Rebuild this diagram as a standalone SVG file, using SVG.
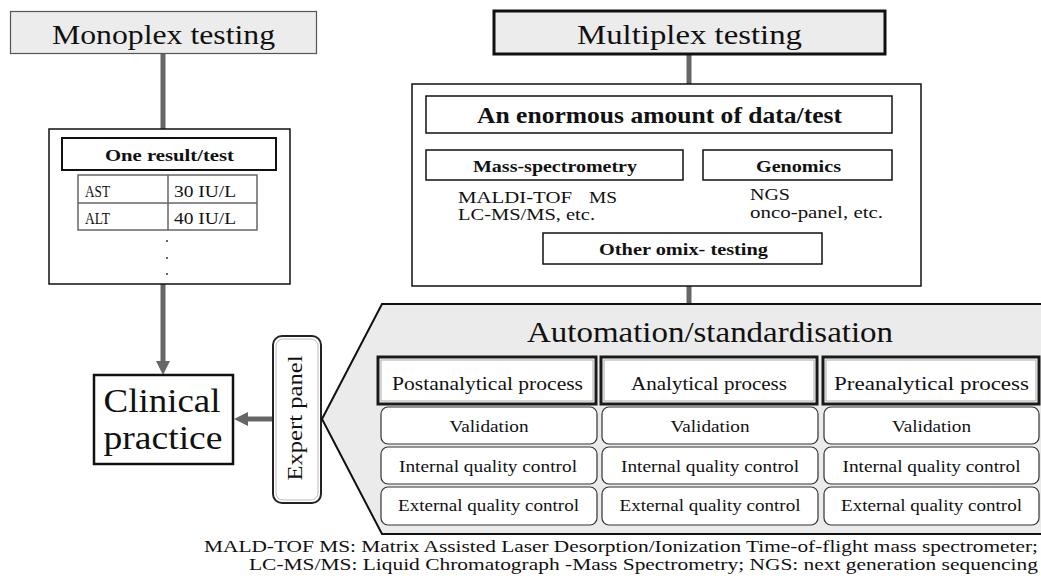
<svg xmlns="http://www.w3.org/2000/svg" width="1041" height="579" viewBox="0 0 1041 579">
<defs>
<style>
text{font-family:'Liberation Serif','DejaVu Serif',serif;fill:#111}
.b{font-weight:bold}
.conn{stroke:#666;stroke-width:5;fill:none}
.thin{fill:#fff;stroke:#111;stroke-width:1.5}
.row{fill:#fff;stroke:#333;stroke-width:1.2}
.hdr{fill:#fff;stroke:#1a1a1a;stroke-width:3}
.hdrin{fill:none;stroke:#aaa;stroke-width:1}
.mid{text-anchor:middle}
.rt{font-size:16.5px;text-anchor:middle}
.ht{font-size:19.5px;text-anchor:middle}
</style>
<marker id="ah" viewBox="0 0 14 14" refX="0" refY="7" markerWidth="14" markerHeight="14" markerUnits="userSpaceOnUse" orient="auto">
<path d="M0,0 L14,7 L0,14 Z" fill="#666"/>
</marker>
</defs>
<rect width="1041" height="579" fill="#fff"/>
<g font-family="Liberation Serif, DejaVu Serif, serif">

<g id="connectors">
<line class="conn" x1="163" y1="54" x2="163" y2="129"/>
<line class="conn" x1="163" y1="284" x2="163" y2="361" marker-end="url(#ah)"/>
<line class="conn" x1="689" y1="55" x2="689" y2="84"/>
<line class="conn" x1="689" y1="286" x2="689" y2="305"/>
<line class="conn" x1="273" y1="419" x2="248" y2="419" marker-end="url(#ah)"/>
</g>

<g id="monoplex">
<rect x="10.5" y="11.5" width="306" height="42" fill="#ececec" stroke="#555" stroke-width="1.2"/>
<text x="163.5" y="44" class="mid" font-size="28" textLength="223" lengthAdjust="spacingAndGlyphs">Monoplex testing</text>
</g>

<g id="multiplex">
<rect x="494" y="11" width="391" height="43" fill="#ececec" stroke="#111" stroke-width="3"/>
<text x="689.5" y="44" class="mid" font-size="28" textLength="225" lengthAdjust="spacingAndGlyphs">Multiplex testing</text>
</g>

<g id="one-result">
<rect class="thin" x="49" y="129" width="241" height="155"/>
<rect x="62" y="138" width="214" height="32" fill="#fff" stroke="#111" stroke-width="2"/>
<text x="169.5" y="161" class="mid b" font-size="17" textLength="129" lengthAdjust="spacingAndGlyphs">One result/test</text>
<rect x="78" y="175" width="179" height="55" fill="none" stroke="#666" stroke-width="1.5"/>
<line x1="78" y1="203" x2="257" y2="203" stroke="#666" stroke-width="1.5"/>
<line x1="168" y1="175" x2="168" y2="230" stroke="#666" stroke-width="1.5"/>
<text x="85" y="197" font-size="17" textLength="25" lengthAdjust="spacingAndGlyphs">AST</text>
<text x="174" y="197" font-size="17" textLength="62" lengthAdjust="spacingAndGlyphs">30 IU/L</text>
<text x="85" y="224" font-size="17" textLength="25" lengthAdjust="spacingAndGlyphs">ALT</text>
<text x="174" y="224" font-size="17" textLength="62" lengthAdjust="spacingAndGlyphs">40 IU/L</text>
<circle cx="167" cy="241" r="1" fill="#333"/>
<circle cx="167" cy="258" r="1" fill="#333"/>
<circle cx="167" cy="274" r="1" fill="#333"/>
</g>

<g id="clinical-practice">
<rect x="94" y="375" width="139" height="89" fill="#fff" stroke="#111" stroke-width="2.5"/>
<text x="162" y="412" class="mid" font-size="34" textLength="117" lengthAdjust="spacingAndGlyphs">Clinical</text>
<text x="163" y="449" class="mid" font-size="34" textLength="119" lengthAdjust="spacingAndGlyphs">practice</text>
</g>

<g id="expert-panel">
<rect x="273" y="336" width="48" height="167" rx="9" fill="#fff" stroke="#222" stroke-width="2"/>
<rect x="276" y="339" width="42" height="161" rx="7" fill="none" stroke="#bbb" stroke-width="1"/>
<text transform="translate(302,418) rotate(-90)" class="mid" font-size="22" textLength="125" lengthAdjust="spacingAndGlyphs">Expert panel</text>
</g>

<g id="multiplex-data">
<rect class="thin" x="412" y="84" width="509" height="202"/>
<rect class="thin" x="426" y="96" width="466" height="37"/>
<text x="659.5" y="123" class="mid b" font-size="23" textLength="365" lengthAdjust="spacingAndGlyphs">An enormous amount of data/test</text>
<rect class="thin" x="426" y="150" width="257" height="30"/>
<text x="555" y="172" class="mid b" font-size="17" textLength="164" lengthAdjust="spacingAndGlyphs">Mass-spectrometry</text>
<rect class="thin" x="703" y="150" width="189" height="30"/>
<text x="798.5" y="172" class="mid b" font-size="17" textLength="85" lengthAdjust="spacingAndGlyphs">Genomics</text>
<text x="458" y="203" font-size="17" textLength="114" lengthAdjust="spacingAndGlyphs">MALDI-TOF</text>
<text x="589" y="203" font-size="17" textLength="28" lengthAdjust="spacingAndGlyphs">MS</text>
<text x="458" y="220" font-size="17" textLength="137" lengthAdjust="spacingAndGlyphs">LC-MS/MS, etc.</text>
<text x="750" y="200" font-size="17" textLength="40" lengthAdjust="spacingAndGlyphs">NGS</text>
<text x="750" y="218" font-size="17" textLength="133" lengthAdjust="spacingAndGlyphs">onco-panel, etc.</text>
<rect class="thin" x="543" y="233" width="279" height="31"/>
<text x="683.5" y="255" class="mid b" font-size="17" textLength="169" lengthAdjust="spacingAndGlyphs">Other omix- testing</text>
</g>

<g id="automation">
<path d="M322,419 L382,304 L1045,304 L1045,534 L382,534 Z" fill="#ebebeb" stroke="#111" stroke-width="2"/>
<text x="527" y="342" font-size="30" textLength="366" lengthAdjust="spacingAndGlyphs">Automation/standardisation</text>
</g>

<g id="postanalytical">
<rect class="hdr" x="378" y="357" width="218" height="47"/>
<rect class="hdrin" x="381" y="360" width="212" height="41"/>
<text x="487.5" y="390" class="ht" textLength="191" lengthAdjust="spacingAndGlyphs">Postanalytical process</text>
<rect class="row" x="381" y="407" width="216" height="37" rx="7"/>
<text x="489" y="432" class="rt" textLength="79" lengthAdjust="spacingAndGlyphs">Validation</text>
<rect class="row" x="381" y="447" width="216" height="37" rx="7"/>
<text x="488" y="472" class="rt" textLength="178" lengthAdjust="spacingAndGlyphs">Internal quality control</text>
<rect class="row" x="381" y="487" width="216" height="38" rx="7"/>
<text x="488.5" y="511" class="rt" textLength="181" lengthAdjust="spacingAndGlyphs">External quality control</text>
</g>

<g id="analytical">
<rect class="hdr" x="601" y="357" width="216" height="47"/>
<rect class="hdrin" x="604" y="360" width="210" height="41"/>
<text x="709" y="390" class="ht" textLength="156" lengthAdjust="spacingAndGlyphs">Analytical process</text>
<rect class="row" x="602" y="407" width="216" height="37" rx="7"/>
<text x="710" y="432" class="rt" textLength="79" lengthAdjust="spacingAndGlyphs">Validation</text>
<rect class="row" x="602" y="447" width="216" height="37" rx="7"/>
<text x="710" y="472" class="rt" textLength="178" lengthAdjust="spacingAndGlyphs">Internal quality control</text>
<rect class="row" x="602" y="487" width="216" height="38" rx="7"/>
<text x="710" y="511" class="rt" textLength="181" lengthAdjust="spacingAndGlyphs">External quality control</text>
</g>

<g id="preanalytical">
<rect class="hdr" x="823" y="357" width="216" height="47"/>
<rect class="hdrin" x="826" y="360" width="210" height="41"/>
<text x="931.5" y="390" class="ht" textLength="195" lengthAdjust="spacingAndGlyphs">Preanalytical process</text>
<rect class="row" x="824" y="407" width="215" height="37" rx="7"/>
<text x="931.5" y="432" class="rt" textLength="79" lengthAdjust="spacingAndGlyphs">Validation</text>
<rect class="row" x="824" y="447" width="215" height="37" rx="7"/>
<text x="931.5" y="472" class="rt" textLength="178" lengthAdjust="spacingAndGlyphs">Internal quality control</text>
<rect class="row" x="824" y="487" width="215" height="38" rx="7"/>
<text x="931.5" y="511" class="rt" textLength="181" lengthAdjust="spacingAndGlyphs">External quality control</text>
</g>

<g id="footnote">
<text x="204" y="552" font-size="17" textLength="834" lengthAdjust="spacingAndGlyphs">MALD-TOF MS: Matrix Assisted Laser Desorption/Ionization Time-of-flight mass spectrometer;</text>
<text x="249" y="570" font-size="17" textLength="789" lengthAdjust="spacingAndGlyphs">LC-MS/MS: Liquid Chromatograph -Mass Spectrometry; NGS: next generation sequencing</text>
</g>
</g>
</svg>
